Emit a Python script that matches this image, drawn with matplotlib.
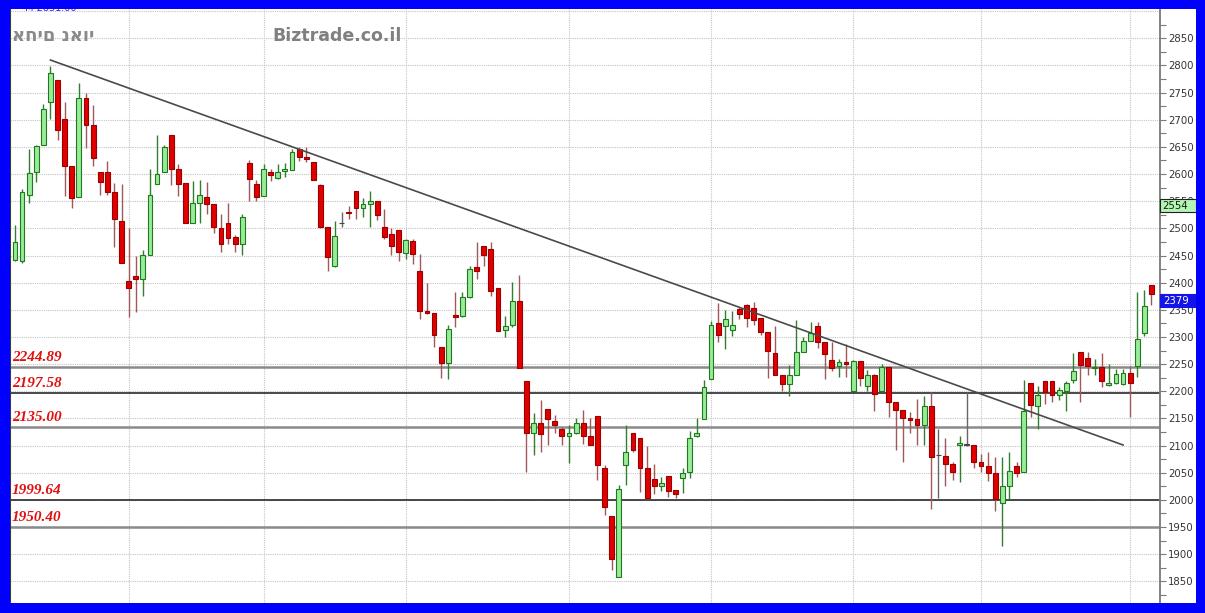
import matplotlib
matplotlib.use("Agg")
import matplotlib.pyplot as plt
from matplotlib.patches import Rectangle
import matplotlib.transforms as mtransforms
from matplotlib.ticker import FixedLocator

# Daily OHLC candles
opens = [2442, 2440, 2561, 2604, 2653, 2732, 2773, 2702, 2615, 2558,
         2741, 2690, 2604, 2604, 2567, 2514, 2403, 2413, 2407, 2451,
         2581, 2603, 2672, 2610, 2583, 2510, 2546, 2558, 2545, 2501,
         2509, 2485, 2472, 2620, 2581, 2560, 2603, 2592, 2605, 2607,
         2646, 2632, 2622, 2579, 2502, 2430, 2509, 2530, 2569, 2538,
         2544, 2551, 2502, 2490, 2497, 2454, 2477, 2422, 2347, 2344,
         2281, 2252, 2341, 2338, 2373, 2428, 2468, 2462, 2391, 2313,
         2322, 2367, 2219, 2123, 2141, 2167, 2146, 2130, 2117, 2123,
         2141, 2118, 2154, 2058, 1971, 1858, 2064, 2124, 2113, 2058,
         2038, 2026, 2043, 2018, 2040, 2051, 2117, 2148, 2222, 2325,
         2320, 2313, 2352, 2359, 2353, 2334, 2310, 2270, 2230, 2213,
         2230, 2273, 2293, 2321, 2290, 2258, 2246, 2254, 2201, 2255,
         2210, 2229, 2201, 2245, 2181, 2166, 2150, 2148, 2137, 2173,
         2082, 2081, 2066, 2101, 2101, 2101, 2070, 2063, 2050, 1994,
         2025, 2062, 2051, 2215, 2173, 2219, 2219, 2193, 2201, 2221,
         2272, 2262, 2242, 2244, 2211, 2215, 2213, 2233, 2246, 2307,
         2395]
highs = [2506, 2572, 2647, 2653, 2729, 2799, 2773, 2732, 2615, 2768,
         2749, 2727, 2604, 2624, 2584, 2581, 2500, 2449, 2460, 2610,
         2672, 2654, 2672, 2619, 2583, 2587, 2589, 2586, 2545, 2527,
         2547, 2488, 2527, 2626, 2589, 2618, 2610, 2618, 2620, 2646,
         2649, 2650, 2622, 2581, 2502, 2514, 2530, 2541, 2569, 2555,
         2568, 2551, 2536, 2500, 2497, 2481, 2480, 2452, 2400, 2344,
         2281, 2322, 2382, 2383, 2431, 2474, 2468, 2475, 2391, 2339,
         2402, 2414, 2219, 2160, 2184, 2167, 2156, 2134, 2137, 2150,
         2166, 2150, 2155, 2064, 1971, 2027, 2137, 2124, 2113, 2100,
         2066, 2042, 2043, 2018, 2059, 2126, 2150, 2221, 2330, 2363,
         2350, 2348, 2356, 2360, 2364, 2334, 2310, 2321, 2230, 2248,
         2332, 2299, 2328, 2328, 2290, 2291, 2260, 2287, 2258, 2255,
         2240, 2232, 2250, 2245, 2181, 2166, 2161, 2186, 2191, 2199,
         2130, 2113, 2070, 2118, 2198, 2101, 2084, 2089, 2078, 2078,
         2089, 2070, 2221, 2215, 2210, 2219, 2219, 2207, 2219, 2270,
         2272, 2272, 2260, 2270, 2250, 2241, 2241, 2247, 2382, 2387,
         2395]
lows = [2440, 2437, 2547, 2586, 2653, 2702, 2662, 2559, 2538, 2558,
        2648, 2615, 2562, 2561, 2465, 2437, 2337, 2346, 2376, 2451,
        2581, 2603, 2580, 2559, 2510, 2510, 2509, 2526, 2491, 2457,
        2472, 2456, 2451, 2550, 2550, 2560, 2587, 2590, 2595, 2607,
        2624, 2622, 2589, 2500, 2422, 2428, 2503, 2518, 2518, 2520,
        2502, 2516, 2481, 2451, 2440, 2444, 2434, 2333, 2342, 2281,
        2224, 2222, 2319, 2337, 2372, 2406, 2431, 2376, 2311, 2299,
        2318, 2242, 2052, 2083, 2088, 2101, 2124, 2101, 2068, 2121,
        2103, 2101, 2037, 1972, 1870, 1858, 2027, 2089, 2015, 2003,
        2011, 2017, 2005, 2003, 2012, 2040, 2115, 2148, 2222, 2291,
        2278, 2301, 2333, 2319, 2322, 2303, 2224, 2230, 2201, 2191,
        2230, 2273, 2293, 2279, 2222, 2238, 2227, 2226, 2201, 2210,
        2201, 2164, 2201, 2152, 2091, 2070, 2123, 2101, 2101, 1983,
        2003, 2025, 2037, 2032, 2100, 2058, 2051, 2035, 1980, 1915,
        2002, 2042, 2051, 2152, 2130, 2176, 2181, 2183, 2164, 2216,
        2181, 2230, 2230, 2207, 2210, 2213, 2211, 2152, 2227, 2301,
        2359]
closes = [2475, 2567, 2602, 2652, 2719, 2787, 2681, 2615, 2555, 2741,
          2690, 2630, 2585, 2567, 2518, 2437, 2391, 2407, 2451, 2561,
          2601, 2650, 2610, 2581, 2510, 2547, 2561, 2545, 2503, 2472,
          2483, 2471, 2521, 2590, 2558, 2610, 2598, 2604, 2609, 2641,
          2632, 2628, 2589, 2503, 2448, 2486, 2509, 2528, 2538, 2544,
          2551, 2524, 2484, 2467, 2456, 2478, 2452, 2348, 2344, 2303,
          2252, 2314, 2337, 2373, 2426, 2422, 2451, 2385, 2311, 2321,
          2367, 2242, 2123, 2141, 2121, 2149, 2138, 2117, 2123, 2141,
          2118, 2101, 2064, 1986, 1891, 2020, 2089, 2092, 2058, 2003,
          2026, 2031, 2016, 2011, 2050, 2114, 2124, 2208, 2322, 2303,
          2333, 2322, 2342, 2334, 2332, 2310, 2275, 2230, 2213, 2230,
          2273, 2292, 2307, 2290, 2268, 2242, 2253, 2250, 2255, 2224,
          2229, 2195, 2245, 2181, 2166, 2150, 2147, 2137, 2173, 2078,
          2082, 2066, 2052, 2105, 2101, 2070, 2062, 2050, 2002, 2025,
          2054, 2050, 2164, 2175, 2193, 2198, 2193, 2203, 2215, 2238,
          2248, 2246, 2245, 2218, 2215, 2232, 2233, 2215, 2297, 2357,
          2379]

# Support / resistance levels
support_levels = [2244.89, 2197.58, 2135.00, 1999.64, 1950.40]
# Falling trend line (candle index, price)
trend_x = [5, 156]
trend_y = [2810, 2101]
# First trading day of each month (candle index)
month_starts = [16, 35, 55, 78, 98, 118, 136, 157]
# Price tags on the scale
tag_ma = 2554
tag_last = 2379
title_he = "אחים נאוי"
title_site = "Biztrade.co.il"
top_note = "M 2831.00"

W, H = 1205, 613
fig = plt.figure(figsize=(W / 100, H / 100), dpi=100, facecolor="white")

def fx(px):
    return px / W

def fy(py):
    return 1 - py / H

ax = fig.add_axes([fx(10), fy(603), fx(1160) - fx(10), fy(9) - fy(603)])
ax.set_facecolor("white")
ax.set_xlim(-0.7, 161.2)
ax.set_ylim(1810, 2904)

# grid
for v in range(1850, 2901, 50):
    ax.axhline(v, color="#c4c4c4", lw=0.8, ls=(0, (1, 1)), zorder=0)
for m in month_starts:
    ax.axvline(m, color="#c4c4c4", lw=0.8, ls=(0, (1, 1)), zorder=0)

# support lines
yx_tr = mtransforms.blended_transform_factory(ax.transAxes, ax.transData)
sup_styles = [("#8a8a8a", 1.8), ("#2a2a2a", 1.2), ("#8a8a8a", 1.8),
              ("#2a2a2a", 1.2), ("#8a8a8a", 1.8)]
for lvl, (col, lw) in zip(support_levels, sup_styles):
    ax.axhline(lvl, color=col, lw=lw, zorder=1)
    ax.text(0.0015, lvl + 5, f"{lvl:.2f}", transform=yx_tr,
            ha="left", va="bottom", color="#e01010", fontsize=11,
            fontfamily="Liberation Serif", fontweight="bold", fontstyle="italic", zorder=5)

# candles
bw = 0.68
for i, (o, h, l, c) in enumerate(zip(opens, highs, lows, closes)):
    if c > o:
        fill, edge, wick = "#98ec98", "#1f7a1f", "#2f7f2f"
    elif c < o:
        fill, edge, wick = "#e00000", "#9a0000", "#a05858"
    else:
        fill, edge, wick = "#444444", "#444444", "#666666"
    ax.vlines(i, l, h, color=wick, lw=1.0, zorder=2)
    bottom = min(o, c)
    height = max(abs(c - o), 1.2)
    ax.bar(i, height, bottom=bottom, width=bw, color=fill, edgecolor=edge,
           linewidth=0.8, zorder=3)

# trend line
ax.plot(trend_x, trend_y, color="#4a4a4a", lw=1.2, zorder=4)

# right price scale
ax.yaxis.tick_right()
ax.yaxis.set_major_locator(FixedLocator(list(range(1850, 2851, 50))))
ax.yaxis.set_minor_locator(FixedLocator(list(range(1825, 2876, 50))))
ax.tick_params(axis="y", which="major", length=4, width=0.8, color="#7a7a7a",
               labelsize=7.3, labelcolor="#333333", pad=2)
ax.tick_params(axis="y", which="minor", length=4, width=0.8, color="#7a7a7a")
ax.set_xticks([])
for s in ("top", "bottom"):
    ax.spines[s].set_visible(False)
ax.spines["right"].set_color("#7a7a7a")
ax.spines["right"].set_linewidth(1.3)
ax.spines["left"].set_color("#3a3a3a")
ax.spines["left"].set_linewidth(1.5)

# price tags
tag_h = 13 * (2904 - 1810) / 594
tag_w = 36 / 1150
ax.add_patch(Rectangle((1.0, tag_ma - tag_h), tag_w, tag_h, transform=yx_tr,
                       facecolor="#b4f4b4", edgecolor="#202020", lw=0.8,
                       clip_on=False, zorder=6))
ax.text(1.0 + 2 / 1150, tag_ma - tag_h / 2, f"{tag_ma}", transform=yx_tr,
        ha="left", va="center", fontsize=7.3, color="#102010", zorder=7)
ax.add_patch(Rectangle((1.0, tag_last - tag_h), tag_w, tag_h, transform=yx_tr,
                       facecolor="#1414e6", edgecolor="#1414e6", lw=0.8,
                       clip_on=False, zorder=6))
ax.text(1.0 + 3 / 1150, tag_last - tag_h / 2, f"{tag_last}", transform=yx_tr,
        ha="left", va="center", fontsize=7.3, color="white", zorder=7)

# headings
fig.text(fx(12), fy(36), title_he, ha="left", va="center", fontsize=13,
         fontweight="bold", color="#8a8a8a", fontfamily="DejaVu Sans", zorder=8)
fig.text(fx(272), fy(36), title_site, ha="left", va="center", fontsize=12.5,
         fontweight="bold", color="#808080", fontfamily="DejaVu Sans", zorder=8)
fig.text(fx(25), fy(8), top_note, ha="left", va="center", fontsize=7,
         color="#3030d0", zorder=8)

# blue frame
blue = "#0000fc"
for (x0, y0, x1, y1) in [(0, 0, 1205, 9), (0, 603, 1205, 613), (0, 0, 10, 613), (1196, 0, 1205, 613)]:
    fig.add_artist(Rectangle((fx(x0), fy(y1)), fx(x1) - fx(x0), fy(y0) - fy(y1),
                             transform=fig.transFigure, facecolor=blue,
                             edgecolor="none", zorder=20))

fig.savefig("out.png", dpi=100, facecolor="white")
